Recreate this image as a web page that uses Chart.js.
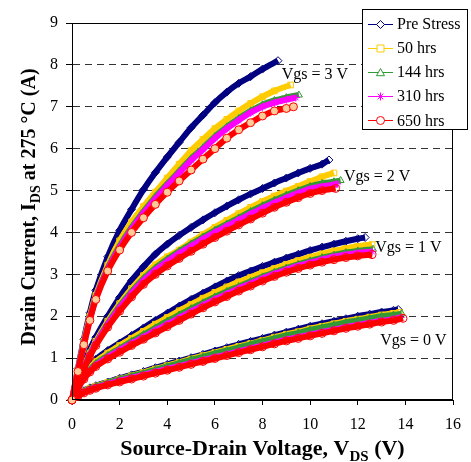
<!DOCTYPE html>
<html>
<head>
<meta charset="utf-8">
<script src="https://cdn.jsdelivr.net/npm/chart.js@4.4.1/dist/chart.umd.min.js"></script>
<style>
  html, body { margin: 0; padding: 0; background: #fff; }
  #wrap { width: 471px; height: 462px; }
</style>
</head>
<body>
<div id="wrap"><canvas id="ivChart" width="471" height="462"></canvas></div>
<script>
// drain bias steps (V); each curve uses the first N of these, then its own end point
const vGrid = [0, 0.25, 0.5, 0.75, 1, 1.5, 2, 2.5, 3, 3.5, 4, 4.5, 5, 5.5, 6, 6.5, 7,
  7.5, 8, 8.5, 9, 9.5, 10, 10.5, 11, 11.5, 12, 12.5, 13, 13.5, 14];

const stressLabels = ['Pre Stress', '50 hrs', '144 hrs', '310 hrs', '650 hrs'];
const gateLabels = ['Vgs = 3 V', 'Vgs = 2 V', 'Vgs = 1 V', 'Vgs = 0 V'];
// label anchor (V, A) for each gate bias
const gateLabelPos = [[8.81, 7.66], [11.42, 5.22], [12.73, 3.53], [12.94, 1.31]];

// Vgs = 3 V
const pre3  = [0, 0.75, 1.45, 2.08, 2.62, 3.42, 4.05, 4.55, 5.02, 5.43, 5.8, 6.15, 6.5, 6.8, 7.1, 7.35, 7.56, 7.72, 7.9];
const h50_3 = [0, 0.72, 1.4, 2.0, 2.5, 3.22, 3.8, 4.25, 4.62, 4.96, 5.3, 5.63, 5.95, 6.22, 6.48, 6.7, 6.9, 7.08, 7.24, 7.38];
const h144_3 = [0, 0.7, 1.36, 1.95, 2.45, 3.15, 3.68, 4.12, 4.5, 4.85, 5.16, 5.46, 5.76, 6.02, 6.29, 6.52, 6.72, 6.9, 7.05, 7.15, 7.22];
const h310_3 = [0, 0.7, 1.35, 1.93, 2.43, 3.12, 3.64, 4.08, 4.46, 4.8, 5.12, 5.42, 5.72, 5.98, 6.25, 6.48, 6.68, 6.86, 7.0, 7.1, 7.17];
const h650_3 = [0, 0.68, 1.32, 1.9, 2.4, 3.08, 3.58, 4.0, 4.35, 4.67, 4.96, 5.23, 5.49, 5.75, 6.0, 6.25, 6.45, 6.62, 6.78, 6.9, 6.96];
const ends3 = [[8.65, 8.10], [9.18, 7.52], [9.53, 7.28], [9.40, 7.22], [9.30, 7.00]];

// Vgs = 2 V
const pre2  = [0, 0.45, 0.85, 1.2, 1.5, 2.0, 2.45, 2.85, 3.18, 3.48, 3.72, 3.93, 4.12, 4.3, 4.47, 4.63, 4.78, 4.92, 5.05, 5.18, 5.3, 5.42, 5.53, 5.63];
const h50_2 = [0, 0.43, 0.8, 1.12, 1.4, 1.88, 2.3, 2.66, 2.97, 3.23, 3.42, 3.58, 3.77, 3.95, 4.12, 4.29, 4.45, 4.6, 4.74, 4.87, 4.99, 5.1, 5.22, 5.33];
const h144_2 = [0, 0.42, 0.77, 1.09, 1.36, 1.83, 2.24, 2.59, 2.9, 3.15, 3.36, 3.55, 3.72, 3.89, 4.05, 4.2, 4.35, 4.5, 4.64, 4.77, 4.89, 5.0, 5.1, 5.17, 5.21];
const h310_2 = [0, 0.41, 0.76, 1.07, 1.34, 1.8, 2.2, 2.55, 2.85, 3.1, 3.31, 3.5, 3.67, 3.84, 4.0, 4.15, 4.3, 4.44, 4.58, 4.71, 4.83, 4.94, 5.04, 5.1, 5.14];
const h650_2 = [0, 0.4, 0.74, 1.04, 1.3, 1.74, 2.12, 2.46, 2.76, 3.0, 3.2, 3.38, 3.55, 3.72, 3.88, 4.03, 4.18, 4.32, 4.46, 4.6, 4.72, 4.83, 4.93, 5.0];
const ends2 = [[10.79, 5.73], [11.0, 5.42], [11.28, 5.24], [11.14, 5.16], [11.07, 5.05]];

// Vgs = 1 V
const pre1  = [0, 0.32, 0.6, 0.8, 0.97, 1.18, 1.36, 1.54, 1.72, 1.9, 2.07, 2.24, 2.4, 2.55, 2.7, 2.84, 2.97, 3.08, 3.19, 3.29, 3.39, 3.48, 3.57, 3.65, 3.72, 3.79, 3.85];
const h50_1 = [0, 0.31, 0.57, 0.76, 0.92, 1.12, 1.3, 1.47, 1.64, 1.81, 1.97, 2.13, 2.28, 2.43, 2.57, 2.7, 2.82, 2.93, 3.04, 3.14, 3.24, 3.33, 3.41, 3.49, 3.56, 3.62, 3.67];
const h144_1 = [0, 0.3, 0.54, 0.72, 0.87, 1.06, 1.23, 1.4, 1.56, 1.72, 1.88, 2.03, 2.18, 2.32, 2.46, 2.59, 2.71, 2.83, 2.94, 3.05, 3.15, 3.24, 3.32, 3.4, 3.46, 3.52, 3.56];
const h310_1 = [0, 0.29, 0.52, 0.69, 0.83, 1.02, 1.19, 1.35, 1.5, 1.66, 1.81, 1.96, 2.11, 2.26, 2.4, 2.53, 2.66, 2.78, 2.9, 3.01, 3.11, 3.2, 3.28, 3.35, 3.42, 3.47, 3.51];
const h650_1 = [0, 0.28, 0.5, 0.67, 0.8, 0.98, 1.14, 1.3, 1.45, 1.6, 1.75, 1.9, 2.05, 2.2, 2.34, 2.47, 2.6, 2.72, 2.84, 2.95, 3.05, 3.14, 3.22, 3.29, 3.35, 3.4, 3.44];
const ends1 = [[12.31, 3.88], [12.6, 3.71], [12.64, 3.60], [12.6, 3.54], [12.6, 3.47]];

// Vgs = 0 V
const pre0  = [0, 0.12, 0.22, 0.29, 0.34, 0.43, 0.52, 0.6, 0.68, 0.77, 0.85, 0.93, 1.01, 1.09, 1.17, 1.25, 1.33, 1.4, 1.47, 1.55, 1.62, 1.69, 1.76, 1.82, 1.88, 1.94, 2.0, 2.05, 2.1, 2.14];
const h50_0 = [0, 0.11, 0.21, 0.28, 0.33, 0.42, 0.5, 0.58, 0.66, 0.74, 0.82, 0.9, 0.98, 1.06, 1.13, 1.21, 1.28, 1.35, 1.42, 1.5, 1.57, 1.63, 1.7, 1.76, 1.82, 1.88, 1.93, 1.98, 2.03, 2.07];
const h144_0 = [0, 0.1, 0.2, 0.27, 0.32, 0.41, 0.49, 0.57, 0.64, 0.72, 0.8, 0.88, 0.96, 1.03, 1.11, 1.18, 1.25, 1.33, 1.4, 1.47, 1.54, 1.6, 1.67, 1.73, 1.79, 1.85, 1.9, 1.95, 2.0, 2.03];
const h310_0 = [0, 0.1, 0.18, 0.25, 0.3, 0.38, 0.46, 0.53, 0.6, 0.67, 0.74, 0.81, 0.88, 0.95, 1.02, 1.09, 1.16, 1.23, 1.3, 1.37, 1.44, 1.5, 1.56, 1.62, 1.68, 1.74, 1.79, 1.84, 1.89, 1.93];
const h650_0 = [0, 0.09, 0.17, 0.23, 0.28, 0.36, 0.43, 0.5, 0.57, 0.64, 0.71, 0.78, 0.85, 0.92, 0.99, 1.06, 1.13, 1.2, 1.27, 1.34, 1.41, 1.47, 1.53, 1.59, 1.65, 1.71, 1.76, 1.81, 1.86, 1.9];
const ends0 = [[13.7, 2.16], [13.75, 2.09], [13.85, 2.06], [13.8, 1.97], [13.9, 1.95]];

const xTicks = [0, 2, 4, 6, 8, 10, 12, 14, 16];
const yTicks = [0, 1, 2, 3, 4, 5, 6, 7, 8, 9];

const groups = [
  { curves: [pre3, h50_3, h144_3, h310_3, h650_3], ends: ends3 },
  { curves: [pre2, h50_2, h144_2, h310_2, h650_2], ends: ends2 },
  { curves: [pre1, h50_1, h144_1, h310_1, h650_1], ends: ends1 },
  { curves: [pre0, h50_0, h144_0, h310_0, h650_0], ends: ends0 }
];

const styles = [
  { color: '#000080', point: 'rectRot' },
  { color: '#FFCC00', point: 'rect' },
  { color: '#339933', point: 'triangle' },
  { color: '#FF00FF', point: 'star' },
  { color: '#FF0000', point: 'circle' }
];
const CLEAR = 'rgba(255,255,255,0)';

const SERIF = '"Liberation Serif", "Times New Roman", serif';

const datasets = [];
groups.forEach((g, gi) => {
  g.curves.forEach((cur, s) => {
    const pts = cur.map((c, i) => ({ x: vGrid[i], y: c }));
    pts.push({ x: g.ends[s][0], y: g.ends[s][1] });
    const st = styles[s];
    // the 650 hrs circles on the steep Vgs = 3 V curve show a light fill
    const fill = (s === 4 && gi === 0) ? '#FFCC99' : CLEAR;
    datasets.push({
      label: stressLabels[s],
      data: pts,
      borderColor: st.color,
      borderWidth: 6,
      pointStyle: st.point,
      pointRadius: 4,
      pointBorderWidth: 1,
      pointBorderColor: st.color,
      pointBackgroundColor: fill,
      tension: 0.3,
      order: 5 - s,
      clip: false
    });
  });
});

function drawMarker(ctx, type, x, y, r, color) {
  ctx.save();
  ctx.strokeStyle = color;
  ctx.fillStyle = '#fff';
  ctx.lineWidth = 1;
  ctx.beginPath();
  if (type === 'rectRot') {
    ctx.moveTo(x, y - r); ctx.lineTo(x + r, y); ctx.lineTo(x, y + r); ctx.lineTo(x - r, y); ctx.closePath();
    ctx.fill(); ctx.stroke();
  } else if (type === 'rect') {
    ctx.rect(x - r + 0.5, y - r + 0.5, 2 * r - 1, 2 * r - 1);
    ctx.fill(); ctx.stroke();
  } else if (type === 'triangle') {
    ctx.moveTo(x, y - r); ctx.lineTo(x + r, y + r * 0.8); ctx.lineTo(x - r, y + r * 0.8); ctx.closePath();
    ctx.fill(); ctx.stroke();
  } else if (type === 'star') {
    const d = r * 0.7;
    ctx.moveTo(x, y - r); ctx.lineTo(x, y + r);
    ctx.moveTo(x - r, y); ctx.lineTo(x + r, y);
    ctx.moveTo(x - d, y - d); ctx.lineTo(x + d, y + d);
    ctx.moveTo(x - d, y + d); ctx.lineTo(x + d, y - d);
    ctx.stroke();
  } else {
    ctx.arc(x, y, r, 0, Math.PI * 2);
    ctx.fill(); ctx.stroke();
  }
  ctx.restore();
}

// text with a subscript run, centred on (0,0) in the current transform
function drawRich(ctx, parts, size) {
  const fonts = parts.map(p => 'bold ' + (p.sub ? Math.round(size * 0.68) : size) + 'px ' + SERIF);
  let total = 0;
  const widths = parts.map((p, i) => { ctx.font = fonts[i]; const w = ctx.measureText(p.t).width; total += w; return w; });
  let x = -total / 2;
  ctx.textAlign = 'left';
  ctx.textBaseline = 'alphabetic';
  parts.forEach((p, i) => {
    ctx.font = fonts[i];
    ctx.fillText(p.t, x, p.sub ? size * 0.25 : 0);
    x += widths[i];
  });
}

const overlay = {
  id: 'overlay',
  afterDraw(chart) {
    const ctx = chart.ctx;
    const a = chart.chartArea;
    const sx = chart.scales.x, sy = chart.scales.y;
    ctx.save();

    // plot frame
    ctx.strokeStyle = '#000';
    ctx.lineWidth = 1;
    ctx.strokeRect(Math.round(a.left) + 0.5, Math.round(a.top) + 0.5,
      Math.round(a.right - a.left) - 1, Math.round(a.bottom - a.top) - 1);

    // gate bias labels
    ctx.fillStyle = '#000';
    ctx.font = '16px ' + SERIF;
    ctx.textAlign = 'left';
    ctx.textBaseline = 'alphabetic';
    gateLabels.forEach((t, i) => {
      ctx.fillText(t, sx.getPixelForValue(gateLabelPos[i][0]), sy.getPixelForValue(gateLabelPos[i][1]));
    });

    // axis titles
    ctx.save();
    ctx.translate((a.left + a.right) / 2, 455);
    drawRich(ctx, [{ t: 'Source-Drain Voltage, V' }, { t: 'DS', sub: true }, { t: ' (V)' }], 22);
    ctx.restore();

    ctx.save();
    ctx.translate(35, 207);
    ctx.rotate(-Math.PI / 2);
    drawRich(ctx, [{ t: 'Drain Current, I' }, { t: 'DS', sub: true }, { t: ' at 275 \u00B0C (A)' }], 20);
    ctx.restore();

    // legend box
    const lx = 362.5, ly = 9.5, lw = 105, lh = 120;
    ctx.fillStyle = '#fff';
    ctx.fillRect(lx, ly, lw, lh);
    ctx.strokeStyle = '#000';
    ctx.strokeRect(lx, ly, lw, lh);
    ctx.font = '16px ' + SERIF;
    ctx.textBaseline = 'middle';
    stressLabels.forEach((t, i) => {
      const y = 23.5 + i * 24.2;
      ctx.strokeStyle = styles[i].color;
      ctx.lineWidth = 1;
      ctx.beginPath();
      ctx.moveTo(368, Math.round(y) + 0.5);
      ctx.lineTo(393, Math.round(y) + 0.5);
      ctx.stroke();
      drawMarker(ctx, styles[i].point, 380.5, Math.round(y) + 0.5, 4, styles[i].color);
      ctx.fillStyle = '#000';
      ctx.fillText(t, 397, y + 1);
    });
    ctx.restore();
  }
};

const tickFont = { family: SERIF, size: 16 };

new Chart(document.getElementById('ivChart').getContext('2d'), {
  type: 'line',
  data: { datasets: datasets },
  options: {
    responsive: false,
    animation: false,
    events: [],
    layout: { padding: { left: 0, top: 23, right: 13, bottom: 0 } },
    plugins: { legend: { display: false }, tooltip: { enabled: false } },
    scales: {
      x: {
        type: 'linear',
        min: 0,
        max: 16,
        afterBuildTicks: s => { s.ticks = xTicks.map(v => ({ value: v })); },
        afterFit: s => { s.height = 62; },
        ticks: { font: tickFont, color: '#000', padding: 10, maxRotation: 0 },
        grid: { drawOnChartArea: false, tickLength: 5, tickColor: '#000' },
        border: { color: '#000' }
      },
      y: {
        type: 'linear',
        min: 0,
        max: 9,
        afterBuildTicks: s => { s.ticks = yTicks.map(v => ({ value: v })); },
        afterFit: s => { s.width = 72; },
        ticks: { font: tickFont, color: '#000', padding: 8 },
        grid: {
          color: c => (c.tick && c.tick.value > 0 && c.tick.value < 9) ? '#333' : 'rgba(0,0,0,0)',
          tickLength: 6,
          tickColor: '#000'
        },
        border: { color: '#000', dash: [7, 5] }
      }
    }
  },
  plugins: [overlay]
});
</script>
</body>
</html>
